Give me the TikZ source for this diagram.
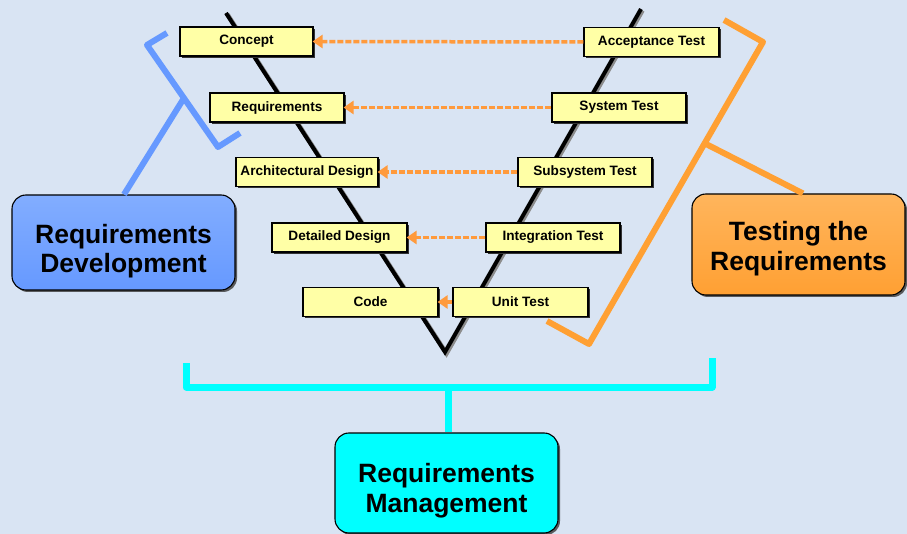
\documentclass[tikz,border=0pt]{standalone}
\usepackage{fontspec}
\setmainfont{Liberation Sans}
\usetikzlibrary{arrows.meta,shadows}

\definecolor{bgblue}{HTML}{D9E4F3}
\definecolor{phasefill}{HTML}{FFFFA6}
\definecolor{linkorange}{HTML}{FF9A3C}
\definecolor{devblue}{HTML}{6699FF}
\definecolor{devbluetop}{HTML}{82ADFF}
\definecolor{testorange}{HTML}{FFA033}
\definecolor{testorangetop}{HTML}{FFB55C}
\definecolor{mgmtcyan}{HTML}{00FFFF}

\tikzset{
  phase/.style={draw=black, line width=1.1pt, fill=phasefill, inner sep=0pt,
    minimum height=29pt, font=\fontsize{13.6}{15}\selectfont\bfseries,
    drop shadow={shadow xshift=2pt, shadow yshift=-2pt, opacity=1, fill=black!80}},
  group/.style={draw=black, line width=1.1pt, rounded corners=14pt, inner sep=0pt,
    align=center, font=\fontsize{26.5}{29.5}\selectfont\bfseries,
    drop shadow={shadow xshift=2pt, shadow yshift=-2pt, opacity=0.9, fill=black!70}},
  testlink/.style={draw=linkorange, line width=3.5pt, dash pattern=on 6pt off 2pt,
    -{Triangle[length=10pt,width=13pt,fill=linkorange]}, shorten >=-1pt},
  vline/.style={draw=black, line width=4pt, line join=miter},
  bracket/.style={line width=6pt, line join=round, line cap=butt},
}

\begin{document}
\begin{tikzpicture}[x=1pt,y=-1pt]
  % backdrop
  \fill[bgblue] (0,0) rectangle (907,534);
  \useasboundingbox (0,0) rectangle (907,534);

  % the V of the lifecycle
  \coordinate (vleft) at (226,13);
  \coordinate (vbottom) at (445,352);
  \coordinate (vright) at (641,9);
  \draw[vline, draw=black!45, line width=4.5pt] ([xshift=1.5pt,yshift=-1.5pt]vleft) -- ([xshift=1.5pt,yshift=-1.5pt]vbottom) -- ([xshift=1.5pt,yshift=-1.5pt]vright);
  \draw[vline] (vleft) -- (vbottom) -- (vright);

  % development phases (left arm)
  \node[phase, minimum width=133pt] (concept) at (246.5,41.5) {Concept};
  \node[phase, minimum width=134pt] (reqs)    at (277,107.5)  {Requirements};
  \node[phase, minimum width=142pt] (arch)    at (307,172)    {Architectural Design};
  \node[phase, minimum width=135pt] (detail)  at (339.5,237.5) {Detailed Design};
  \node[phase, minimum width=135pt] (code)    at (370.5,302)  {Code};

  % test phases (right arm)
  \node[phase, minimum width=135pt] (accept)  at (651.5,42)   {Acceptance Test};
  \node[phase, minimum width=134pt] (system)  at (619,107.5)  {System Test};
  \node[phase, minimum width=134pt] (subsys)  at (585,172)    {Subsystem Test};
  \node[phase, minimum width=134pt] (integ)   at (553,237.5)  {Integration Test};
  \node[phase, minimum width=135pt] (unit)    at (520.5,302)  {Unit Test};

  % each test level checks its development level
  \draw[testlink] (accept.west) -- (concept.east);
  \draw[testlink] (system.west) -- (reqs.east);
  \draw[testlink] (subsys.west) -- (arch.east);
  \draw[testlink] (integ.west)  -- (detail.east);
  \draw[testlink, dash pattern=on 2pt off 0pt] (unit.west) -- (code.east);

  % group boxes
  \node[group, top color=devbluetop, bottom color=devblue, minimum width=223pt, minimum height=95pt, text height=66pt]
    (reqdev) at (123.5,242.5) {Requirements\\Development};
  \node[group, top color=testorangetop, bottom color=testorange, minimum width=213pt, minimum height=101pt, text height=57pt]
    (testreq) at (798.5,244.5) {Testing the\\Requirements};
  \node[group, fill=mgmtcyan, minimum width=223pt, minimum height=100pt, text height=64pt]
    (reqmgmt) at (446.5,483) {Requirements\\Management};

  % bracket over the development phases
  \coordinate (db1) at (167,33);
  \coordinate (db2) at (147,45);
  \coordinate (db3) at (218,147);
  \coordinate (db4) at (240,133);
  \coordinate (dbmid) at (184,98);
  \draw[bracket, draw=devblue] (db1) -- (db2) -- (db3) -- (db4);
  \draw[bracket, draw=devblue] (dbmid) -- (reqdev.north -| 124,0);

  % bracket over the test phases
  \coordinate (tb1) at (724,20);
  \coordinate (tb2) at (763,42);
  \coordinate (tb3) at (589,344);
  \coordinate (tb4) at (547,321);
  \coordinate (tbmid) at (706,144);
  \draw[bracket, draw=testorange] (tb1) -- (tb2) -- (tb3) -- (tb4);
  \draw[bracket, draw=testorange] (tbmid) -- (testreq.north -| 803,0);

  % bracket spanning the whole lifecycle
  \coordinate (mb1) at (186,363);
  \coordinate (mb2) at (186,387);
  \coordinate (mb3) at (712,387);
  \coordinate (mb4) at (712,358);
  \coordinate (mbmid) at (448,387);
  \draw[bracket, draw=mgmtcyan, line width=7pt] (mb1) -- (mb2) -- (mb3) -- (mb4);
  \draw[bracket, draw=mgmtcyan, line width=7pt] (mbmid) -- (mbmid |- reqmgmt.north);
\end{tikzpicture}
\end{document}
